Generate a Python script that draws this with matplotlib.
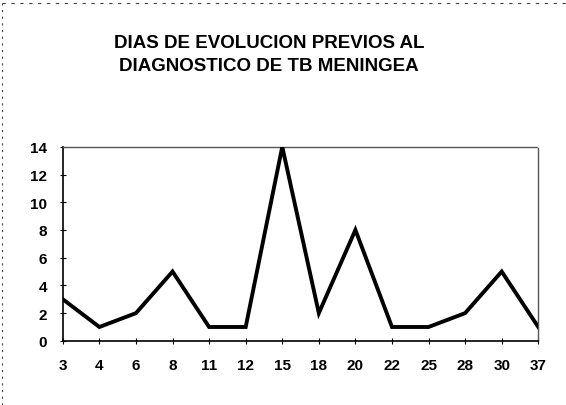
import matplotlib
matplotlib.use("Agg")
import matplotlib.pyplot as plt

# data
dias = ["3", "4", "6", "8", "11", "12", "15", "18", "20", "22", "25", "28", "30", "37"]
casos = [3, 1, 2, 5, 1, 1, 14, 2, 8, 1, 1, 2, 5, 1]
yticks = [0, 2, 4, 6, 8, 10, 12, 14]

fig = plt.figure(figsize=(5.66, 4.06), dpi=100)
fig.patch.set_facecolor("white")

ax = fig.add_axes([0.111, 0.158, 0.840, 0.478])
x = list(range(len(dias)))
ax.plot(x, casos, color="black", linewidth=2.8, solid_joinstyle="miter", zorder=3)

ax.set_xlim(0, len(dias) - 1)
ax.set_ylim(0, 14)
ax.set_xticks(x)
ax.set_xticklabels(dias)
ax.set_yticks(yticks)

for lab in ax.get_xticklabels() + ax.get_yticklabels():
    lab.set_fontfamily("Liberation Sans")
    lab.set_fontweight("bold")
    lab.set_fontsize(11)

ax.tick_params(axis="x", direction="inout", length=5, width=0.8, pad=10)
ax.tick_params(axis="y", direction="inout", length=5, width=0.8, pad=9)

ax.spines["left"].set_linewidth(1.2)
ax.spines["bottom"].set_linewidth(1.2)
for s in ("top", "right"):
    ax.spines[s].set_linestyle((0, (1, 1)))
    ax.spines[s].set_color("#555555")
    ax.spines[s].set_linewidth(1.0)

fig.text(0.475, 0.864, "DIAS DE EVOLUCION PREVIOS AL\nDIAGNOSTICO DE TB MENINGEA",
         ha="center", va="center", fontsize=13.5, fontweight="bold",
         family="Liberation Sans", linespacing=1.45)

# scanned page border (dashed, left and top)
fig.add_artist(plt.Line2D([0.004, 0.004], [0.0, 0.99], transform=fig.transFigure,
                          color="#444444", linewidth=0.8, linestyle=(0, (2, 4))))
fig.add_artist(plt.Line2D([0.004, 1.0], [0.99, 0.99], transform=fig.transFigure,
                          color="#444444", linewidth=0.8, linestyle=(0, (3, 5))))

fig.savefig("out.png", dpi=100)
